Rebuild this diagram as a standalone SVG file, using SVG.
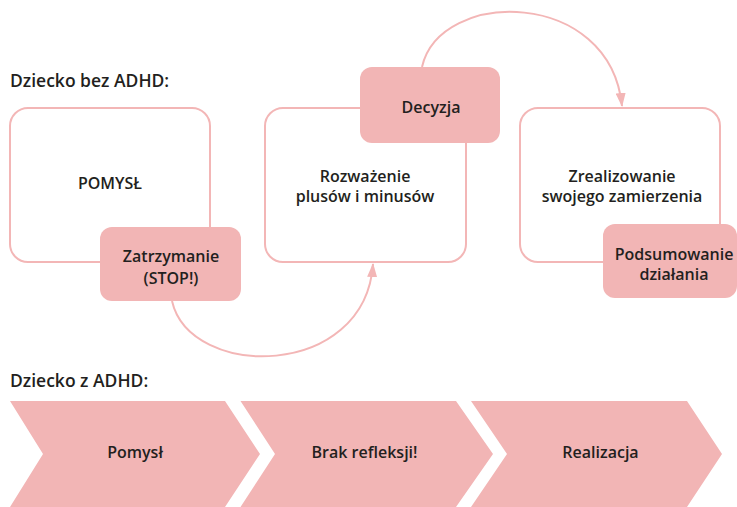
<svg xmlns="http://www.w3.org/2000/svg" width="737" height="507" viewBox="0 0 737 507">
<defs>
<style>
.t{font-family:"Open Sans","Liberation Sans",sans-serif;font-weight:600;font-size:16px;fill:#231f20;text-anchor:middle}
.h{font-family:"Open Sans","Liberation Sans",sans-serif;font-weight:600;font-size:17.5px;fill:#231f20}
.box{fill:#ffffff;stroke:#f3b6b6;stroke-width:2}
.fill{fill:#f2b5b5}
.conn{fill:none;stroke:#f3b6b6;stroke-width:2}
</style>
<marker id="arr" viewBox="0 0 14 10" refX="13" refY="5" markerWidth="14" markerHeight="10" markerUnits="userSpaceOnUse" orient="auto">
<path d="M0,0 L14,5 L0,10 Z" fill="#f3b6b6"/>
</marker>
</defs>
<rect width="737" height="507" fill="#ffffff"/>
<text class="h" x="10" y="87">Dziecko bez ADHD:</text>
<g id="connectors">
<path class="conn" d="M172,301 C190,380 365,380 373,264" marker-end="url(#arr)"/>
<path class="conn" d="M422,67 C440,-12 610,-12 622,106" marker-end="url(#arr)"/>
</g>
<g id="pomysl">
<rect class="box" x="10" y="108" width="200" height="154" rx="18"/>
<text class="t" x="110" y="188.5">POMYSŁ</text>
</g>
<g id="rozwazenie">
<rect class="box" x="265" y="108" width="201" height="154" rx="18"/>
<text class="t" x="365" y="182">Rozważenie</text>
<text class="t" x="365" y="202">plusów i minusów</text>
</g>
<g id="zrealizowanie">
<rect class="box" x="520" y="108" width="200" height="154" rx="18"/>
<text class="t" x="622" y="182">Zrealizowanie</text>
<text class="t" x="622" y="202">swojego zamierzenia</text>
</g>
<g id="zatrzymanie">
<rect class="fill" x="100" y="227" width="141" height="74" rx="12"/>
<text class="t" x="171" y="261.5">Zatrzymanie</text>
<text class="t" x="171" y="283.5">(STOP!)</text>
</g>
<g id="decyzja">
<rect class="fill" x="360" y="67" width="140" height="76" rx="12"/>
<text class="t" x="431" y="113">Decyzja</text>
</g>
<g id="podsumowanie">
<rect class="fill" x="603" y="224" width="134" height="74" rx="12"/>
<text class="t" x="674" y="260">Podsumowanie</text>
<text class="t" x="674" y="280">działania</text>
</g>
<text class="h" x="10" y="387">Dziecko z ADHD:</text>
<g id="chevron-pomysl">
<path class="fill" d="M10,401 L225,401 L260,454 L225,507 L10,507 L43,454 Z"/>
<text class="t" x="135" y="458">Pomysł</text>
</g>
<g id="chevron-brak">
<path class="fill" d="M240.5,401 L456,401 L493,454 L456,507 L240.5,507 L275,454 Z"/>
<text class="t" x="364.5" y="458">Brak refleksji!</text>
</g>
<g id="chevron-realizacja">
<path class="fill" d="M471,401 L687,401 L722,454 L687,507 L471,507 L507,454 Z"/>
<text class="t" x="600.5" y="458">Realizacja</text>
</g>
</svg>
